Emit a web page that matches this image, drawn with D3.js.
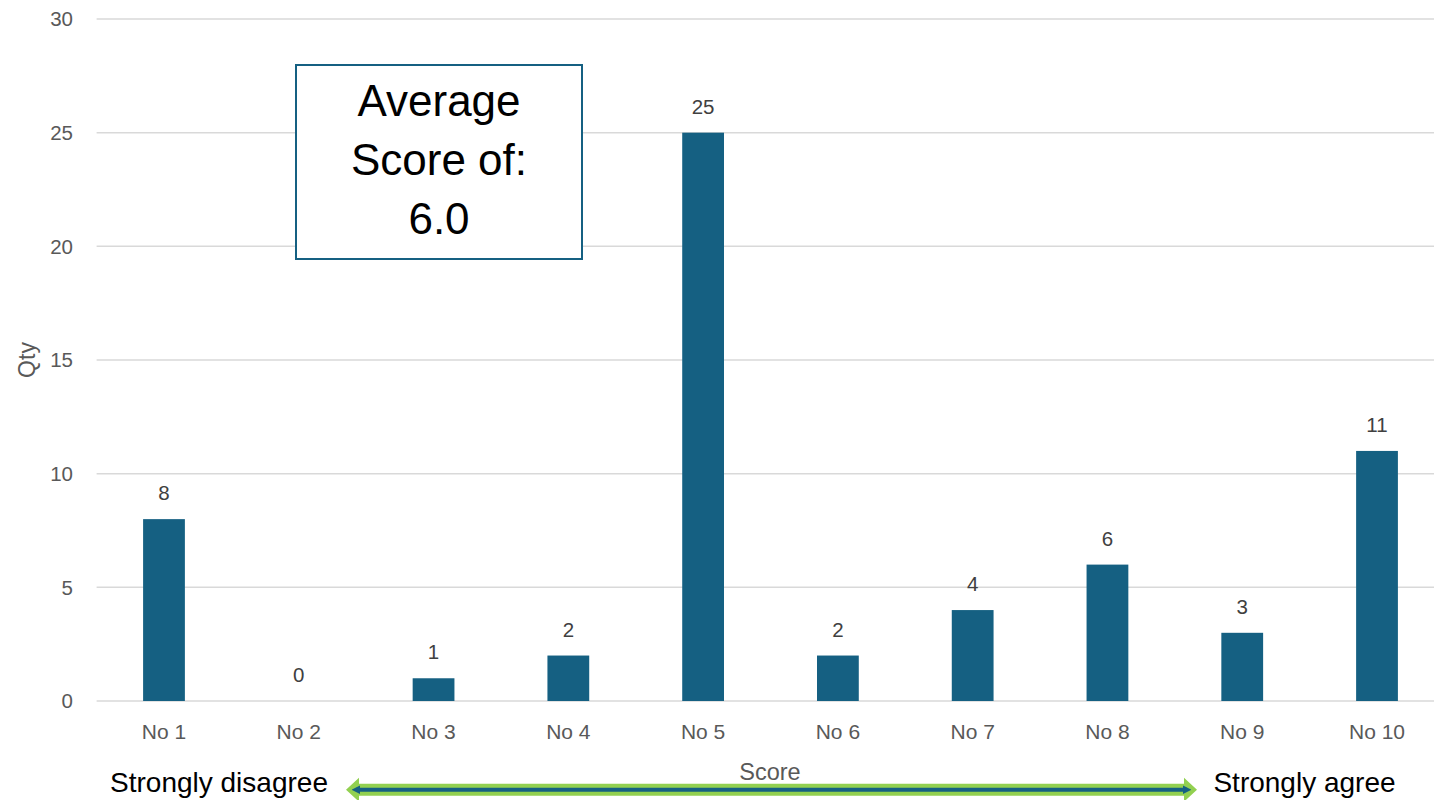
<!DOCTYPE html>
<html>
<head>
<meta charset="utf-8">
<script src="https://cdn.jsdelivr.net/npm/d3@7"></script>
<style>
  html, body { margin: 0; padding: 0; background: #fff; }
  svg { display: block; }
</style>
</head>
<body>
<svg id="chart"></svg>
<script>
'use strict';

// data
const categories = ['No 1', 'No 2', 'No 3', 'No 4', 'No 5', 'No 6', 'No 7', 'No 8', 'No 9', 'No 10'];
const qty = [8, 0, 1, 2, 25, 2, 4, 6, 3, 11];
const yTicks = [0, 5, 10, 15, 20, 25, 30];
const boxLines = ['Average', 'Score of:', '6.0'];

const chartW = 1434;
const chartH = 800;
const plotLeft = 96.6, plotRight = 1444.4, plotTop = 19, plotBottom = 701;

const svg = d3.select('#chart').attr('width', chartW).attr('height', chartH);

const x = d3.scaleBand()
	.domain(categories)
	.range([plotLeft, plotRight])
	.paddingInner(0.69)
	.paddingOuter(0.345);

const y = d3.scaleLinear()
	.domain([0, 30])
	.range([plotBottom, plotTop]);

const labelFont = '"Liberation Sans", Arial, sans-serif';

// gridlines
svg.append('g')
	.selectAll('line')
	.data(yTicks)
	.enter()
	.append('line')
	.attr('x1', plotLeft)
	.attr('x2', plotRight)
	.attr('y1', d => y(d))
	.attr('y2', d => y(d))
	.attr('stroke', '#d9d9d9')
	.attr('stroke-width', 1.5);

// y axis labels
svg.append('g')
	.selectAll('text')
	.data(yTicks)
	.enter()
	.append('text')
	.attr('x', 73)
	.attr('y', d => y(d))
	.attr('dy', '0.35em')
	.attr('text-anchor', 'end')
	.attr('font-family', labelFont)
	.attr('font-size', 20.5)
	.attr('fill', '#595959')
	.text(d => d);

// bars
svg.append('g')
	.selectAll('rect')
	.data(qty)
	.enter()
	.append('rect')
	.attr('x', (d, i) => x(categories[i]))
	.attr('y', d => y(d))
	.attr('width', x.bandwidth())
	.attr('height', d => y(0) - y(d))
	.attr('fill', '#156082');

// value labels
svg.append('g')
	.selectAll('text')
	.data(qty)
	.enter()
	.append('text')
	.attr('x', (d, i) => x(categories[i]) + x.bandwidth() / 2)
	.attr('y', d => y(d) - 19)
	.attr('text-anchor', 'middle')
	.attr('font-family', labelFont)
	.attr('font-size', 20.5)
	.attr('fill', '#404040')
	.text(d => d);

// x axis labels
svg.append('g')
	.selectAll('text')
	.data(categories)
	.enter()
	.append('text')
	.attr('x', d => x(d) + x.bandwidth() / 2)
	.attr('y', 739)
	.attr('text-anchor', 'middle')
	.attr('font-family', labelFont)
	.attr('font-size', 21)
	.attr('fill', '#595959')
	.text(d => d);

// axis titles
svg.append('text')
	.attr('transform', 'translate(35,360) rotate(-90)')
	.attr('text-anchor', 'middle')
	.attr('font-family', labelFont)
	.attr('font-size', 23)
	.attr('fill', '#595959')
	.text('Qty');

svg.append('text')
	.attr('x', 770)
	.attr('y', 780)
	.attr('text-anchor', 'middle')
	.attr('font-family', labelFont)
	.attr('font-size', 23.5)
	.attr('fill', '#595959')
	.text('Score');

// double arrow under the axis
const ay = 789.7;
const ax1 = 346, ax2 = 1197;
const head = 13, shaftH = 6, headH = 12;
svg.append('path')
	.attr('d', `M${ax1},${ay} L${ax1 + head},${ay - headH} L${ax1 + head},${ay - shaftH}`
		+ ` L${ax2 - head},${ay - shaftH} L${ax2 - head},${ay - headH} L${ax2},${ay}`
		+ ` L${ax2 - head},${ay + headH} L${ax2 - head},${ay + shaftH}`
		+ ` L${ax1 + head},${ay + shaftH} L${ax1 + head},${ay + headH} Z`)
	.attr('fill', '#92d050');

svg.append('defs').append('marker')
	.attr('id', 'bluehead')
	.attr('viewBox', '0 -5 10 10')
	.attr('refX', 5)
	.attr('refY', 0)
	.attr('orient', 'auto-start-reverse')
	.attr('markerWidth', 2.2)
	.attr('markerHeight', 2.2)
	.append('path')
	.attr('d', 'M0,-5 L10,0 L0,5 Z')
	.attr('fill', '#156082');

svg.append('line')
	.attr('x1', ax1 + 10)
	.attr('x2', ax2 - 10)
	.attr('y1', ay)
	.attr('y2', ay)
	.attr('stroke', '#156082')
	.attr('stroke-width', 4)
	.attr('marker-start', 'url(#bluehead)')
	.attr('marker-end', 'url(#bluehead)');

svg.append('text')
	.attr('x', 219)
	.attr('y', 792)
	.attr('text-anchor', 'middle')
	.attr('font-family', labelFont)
	.attr('font-size', 28)
	.attr('fill', '#000')
	.text('Strongly disagree');

svg.append('text')
	.attr('x', 1304.5)
	.attr('y', 792)
	.attr('text-anchor', 'middle')
	.attr('font-family', labelFont)
	.attr('font-size', 28)
	.attr('fill', '#000')
	.text('Strongly agree');

// average score box
const box = svg.append('g');
box.append('rect')
	.attr('x', 296)
	.attr('y', 65)
	.attr('width', 286)
	.attr('height', 194)
	.attr('fill', '#fff')
	.attr('stroke', '#156082')
	.attr('stroke-width', 2);

box.selectAll('text')
	.data(boxLines)
	.enter()
	.append('text')
	.attr('x', 439)
	.attr('y', (d, i) => 116 + i * 59)
	.attr('text-anchor', 'middle')
	.attr('font-family', labelFont)
	.attr('font-size', 44)
	.attr('fill', '#000')
	.text(d => d);
</script>
</body>
</html>
